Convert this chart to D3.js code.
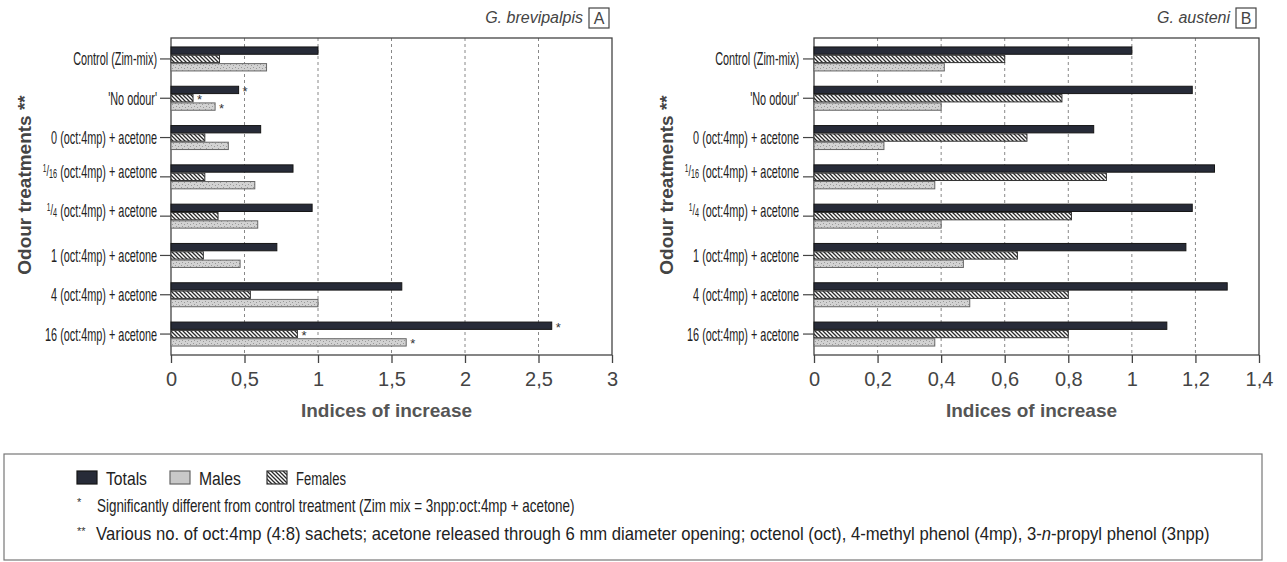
<!DOCTYPE html>
<html>
<head>
<meta charset="utf-8">
<script src="https://cdnjs.cloudflare.com/ajax/libs/d3/7.8.5/d3.min.js"></script>
<style>
  body { margin: 0; background: #fff; }
  svg { display: block; }
</style>
</head>
<body>
<svg id="chart" width="1287" height="562"></svg>
<script>
// Data
const categories = [
  "Control (Zim-mix)",
  "'No odour'",
  "0 (oct:4mp) + acetone",
  "1/16 (oct:4mp) + acetone",
  "1/4 (oct:4mp) + acetone",
  "1 (oct:4mp) + acetone",
  "4 (oct:4mp) + acetone",
  "16 (oct:4mp) + acetone"
];
const seriesNames = ["Totals", "Females", "Males"];

const brevTotals  = [1.00, 0.46, 0.61, 0.83, 0.96, 0.72, 1.57, 2.59];
const brevFemales = [0.33, 0.15, 0.23, 0.23, 0.32, 0.22, 0.54, 0.86];
const brevMales   = [0.65, 0.30, 0.39, 0.57, 0.59, 0.47, 1.00, 1.60];
const brevSignif  = ["'No odour'", "16 (oct:4mp) + acetone"];
const brevTicks   = [0, 0.5, 1, 1.5, 2, 2.5, 3];

const austTotals  = [1.00, 1.19, 0.88, 1.26, 1.19, 1.17, 1.30, 1.11];
const austFemales = [0.60, 0.78, 0.67, 0.92, 0.81, 0.64, 0.80, 0.80];
const austMales   = [0.41, 0.40, 0.22, 0.38, 0.40, 0.47, 0.49, 0.38];
const austSignif  = [];
const austTicks   = [0, 0.2, 0.4, 0.6, 0.8, 1, 1.2, 1.4];

const legendItems = ["Totals", "Males", "Females"];
const footnote1 = "Significantly different from control treatment  (Zim mix = 3npp:oct:4mp + acetone)";
const footnote2a = "Various no. of oct:4mp (4:8) sachets; acetone released through 6 mm diameter opening; octenol (oct), 4-methyl phenol (4mp), 3-";
const footnote2b = "n";
const footnote2c = "-propyl phenol (3npp)";

const svg = d3.select("#chart");
const sans = "'Liberation Sans', Arial, sans-serif";

// patterns
const defs = svg.append("defs");
const hatch = defs.append("pattern").attr("id", "hatch")
  .attr("patternUnits", "userSpaceOnUse").attr("width", 4).attr("height", 4);
hatch.append("rect").attr("width", 4).attr("height", 4).attr("fill", "#fff");
hatch.append("path").attr("d", "M-1,-1 L5,5 M-1,3 L1,5 M3,-1 L5,1")
  .attr("stroke", "#2a2a2a").attr("stroke-width", 1.3);

const stip = defs.append("pattern").attr("id", "stipple")
  .attr("patternUnits", "userSpaceOnUse").attr("width", 6).attr("height", 6);
stip.append("rect").attr("width", 6).attr("height", 6).attr("fill", "#d2d2d2");
[[1, 1], [4, 2], [2, 4], [5, 5]].forEach(([x, y]) =>
  stip.append("rect").attr("x", x).attr("y", y).attr("width", 1).attr("height", 1).attr("fill", "#999"));

const fills = { Totals: "#272b38", Females: "url(#hatch)", Males: "url(#stipple)" };
const strokes = { Totals: "#151515", Females: "#333", Males: "#666" };

const panels = [
  { key: "A", title: "G. brevipalpis", x0: 171, x1: 612, max: 3, ticks: brevTicks,
    values: { Totals: brevTotals, Females: brevFemales, Males: brevMales }, signif: brevSignif,
    labelRight: 157, yTitleX: 24 },
  { key: "B", title: "G. austeni", x0: 814, x1: 1259, max: 1.4, ticks: austTicks,
    values: { Totals: austTotals, Females: austFemales, Males: austMales }, signif: austSignif,
    labelRight: 799, yTitleX: 666 }
];

const plotTop = 38, plotBottom = 355;

function fmt(v) { return String(v).replace(".", ","); }

// the source uses a condensed face: scale a text group horizontally to a target width
function fitWidth(g, textSel, targetWidth, tx, ty) {
  const w = textSel.node().getComputedTextLength();
  g.attr("transform", `translate(${tx},${ty}) scale(${targetWidth / w},1)`);
}

panels.forEach(p => {
  const x = d3.scaleLinear().domain([0, p.max]).range([p.x0, p.x1]);
  const y = d3.scaleBand().domain(categories).range([plotTop, plotBottom])
    .paddingInner(0.364).paddingOuter(0.215);
  const ys = d3.scaleBand().domain(seriesNames).range([0, y.bandwidth()]);

  const g = svg.append("g");

  // grid
  g.selectAll(".grid").data(p.ticks.filter(t => t > 0 && t < p.max)).join("line")
    .attr("x1", d => x(d)).attr("x2", d => x(d))
    .attr("y1", plotTop).attr("y2", plotBottom)
    .attr("stroke", "#888").attr("stroke-width", 1).attr("stroke-dasharray", "3,3");

  // frame
  g.append("rect").attr("x", p.x0).attr("y", plotTop)
    .attr("width", p.x1 - p.x0).attr("height", plotBottom - plotTop)
    .attr("fill", "none").attr("stroke", "#444").attr("stroke-width", 1.3);

  // bars
  seriesNames.forEach(s => {
    g.selectAll(".bar-" + s).data(p.values[s]).join("rect")
      .attr("x", x(0))
      .attr("y", (d, i) => y(categories[i]) + ys(s) + 0.5)
      .attr("width", d => x(d) - x(0))
      .attr("height", ys.bandwidth() - 1)
      .attr("fill", fills[s]).attr("stroke", strokes[s]).attr("stroke-width", 1);
    // significance stars
    g.selectAll(".star-" + s).data(p.values[s].map((v, i) => ({ v, c: categories[i] }))
        .filter(d => p.signif.includes(d.c))).join("text")
      .attr("x", d => x(d.v) + 4)
      .attr("y", d => y(d.c) + ys(s) + ys.bandwidth() / 2 + 6)
      .attr("font-family", sans).attr("font-size", 13).attr("fill", "#333")
      .text("*");
  });

  // x axis ticks
  const xa = g.append("g").attr("transform", `translate(0,${plotBottom})`)
    .call(d3.axisBottom(x).tickValues(p.ticks).tickSize(8).tickPadding(9).tickFormat(fmt));
  xa.select(".domain").remove();
  xa.selectAll("line").attr("stroke", "#444").attr("stroke-width", 1.3);
  xa.selectAll("text").attr("font-family", sans).attr("font-size", 20).attr("fill", "#444");

  // y ticks
  g.selectAll(".ytick").data(categories).join("line")
    .attr("x1", p.x0 - 11).attr("x2", p.x0)
    .attr("y1", d => y(d) + y.bandwidth() / 2).attr("y2", d => y(d) + y.bandwidth() / 2)
    .attr("stroke", "#444").attr("stroke-width", 1.2);

  // category labels (condensed)
  const lg = g.append("g");
  const labels = lg.selectAll("text").data(categories).join("text")
    .attr("x", 0).attr("y", d => y(d) + y.bandwidth() / 2)
    .attr("dy", "0.36em").attr("text-anchor", "end")
    .attr("font-family", sans).attr("font-size", 18).attr("fill", "#222");
  labels.each(function (d) {
    const t = d3.select(this);
    const m = d.match(/^(\d+)\/(\d+) (.*)$/);
    if (m) {
      t.append("tspan").attr("font-size", 11).attr("dy", "-0.45em").text(m[1]);
      t.append("tspan").attr("font-size", 15).attr("dy", "0.25em").text("/");
      t.append("tspan").attr("font-size", 12).attr("dy", "0.2em").text(m[2]);
      t.append("tspan").attr("dy", "0").text(" " + m[3]);
    } else {
      t.text(d);
    }
  });
  fitWidth(lg, labels.filter(d => d === "16 (oct:4mp) + acetone"), 112, p.labelRight, 0);

  // axis titles
  g.append("text").attr("x", (p.x0 + p.x1) / 2 - 5).attr("y", 417)
    .attr("text-anchor", "middle").attr("font-family", sans).attr("font-weight", "bold")
    .attr("font-size", 19).attr("fill", "#555").text("Indices of increase");

  g.append("text").attr("transform", `translate(${p.yTitleX},185) rotate(-90)`)
    .attr("text-anchor", "middle").attr("dominant-baseline", "central")
    .attr("font-family", sans).attr("font-weight", "bold")
    .attr("font-size", 19).attr("fill", "#444").text("Odour treatments **");

  // panel title + letter box
  g.append("text").attr("x", p.x1 - 29).attr("y", 23).attr("text-anchor", "end")
    .attr("font-family", sans).attr("font-style", "italic").attr("font-size", 16)
    .attr("fill", "#444").text(p.title);
  g.append("rect").attr("x", p.x1 - 23).attr("y", 8).attr("width", 20).attr("height", 20)
    .attr("fill", "none").attr("stroke", "#444").attr("stroke-width", 1.2);
  g.append("text").attr("x", p.x1 - 13).attr("y", 24).attr("text-anchor", "middle")
    .attr("font-family", sans).attr("font-size", 16).attr("fill", "#444").text(p.key);
});

// legend box
const leg = svg.append("g");
leg.append("rect").attr("x", 4).attr("y", 454).attr("width", 1258).attr("height", 106)
  .attr("fill", "none").attr("stroke", "#777").attr("stroke-width", 1.2);

const legX = { Totals: 77, Males: 170, Females: 267 };
const legW = { Totals: 41, Males: 42, Females: 50 };
legendItems.forEach(s => {
  leg.append("rect").attr("x", legX[s]).attr("y", 471).attr("width", 20).attr("height", 13)
    .attr("fill", s === "Males" ? "#c8c8c8" : fills[s])
    .attr("stroke", strokes[s]).attr("stroke-width", 1.2);
  const tg = leg.append("g");
  const t = tg.append("text").attr("font-family", sans).attr("font-size", 19)
    .attr("fill", "#222").text(s);
  fitWidth(tg, t, legW[s], legX[s] + 29, 485);
});

leg.append("text").attr("x", 77).attr("y", 506).attr("font-family", sans)
  .attr("font-size", 11).attr("fill", "#333").text("*");
leg.append("text").attr("x", 77).attr("y", 535).attr("font-family", sans)
  .attr("font-size", 11).attr("fill", "#333").text("**");

const f1g = leg.append("g");
const f1 = f1g.append("text").attr("font-family", sans).attr("font-size", 18)
  .attr("fill", "#222").text(footnote1);
fitWidth(f1g, f1, 478, 97, 512);

const f2g = leg.append("g");
const f2 = f2g.append("text").attr("font-family", sans).attr("font-size", 18).attr("fill", "#222");
f2.append("tspan").text(footnote2a);
f2.append("tspan").attr("font-style", "italic").text(footnote2b);
f2.append("tspan").text(footnote2c);
fitWidth(f2g, f2, 1114, 96, 540);
</script>
</body>
</html>
